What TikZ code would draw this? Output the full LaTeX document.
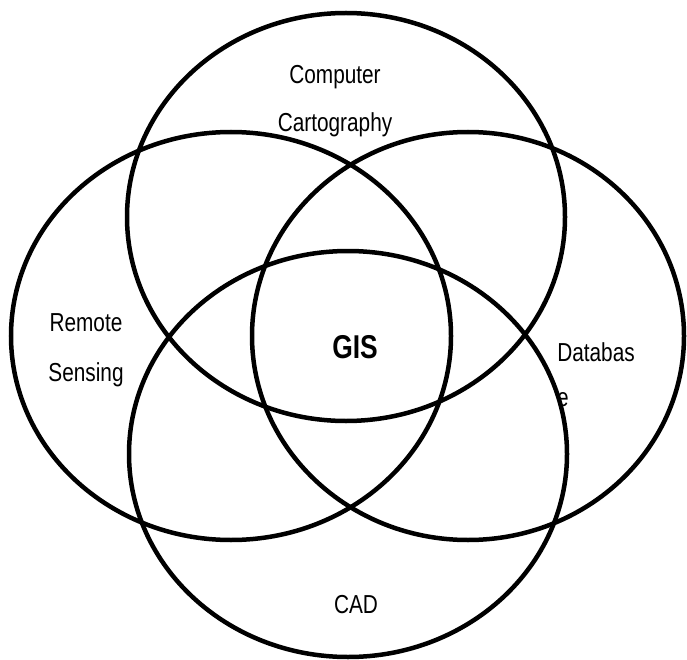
\documentclass[tikz,border=0pt]{standalone}
\usepackage{fontspec}
\setmainfont{Liberation Sans}[FakeStretch=0.8]
\usetikzlibrary{shapes.geometric,positioning}
\tikzstyle{ring} = [draw, ellipse, line width=4.5pt, inner sep=0pt, minimum width=438pt, minimum height=408pt]
\tikzstyle{field} = [font=\fontsize{26}{28}\selectfont, inner sep=0pt]
\tikzstyle{core} = [font=\bfseries\fontsize{33}{35}\selectfont, inner sep=0pt]

\begin{document}
\begin{tikzpicture}[x=1pt, y=-1pt, node distance=48pt]
		\useasboundingbox (0,0) rectangle (687,660);
		\node [ring] (carto) at (346,217) {};
		\node [ring, minimum width=440pt] (remote) at (231,336) {};
		\node [ring, minimum width=432pt] (data) at (468,336) {};
		\node [ring, minimum height=406pt] (cad) at (348,454) {};

		\node [field] (comp) at (335,77) {Computer};
		\node [field, below of=comp] (cartl) {Cartography};
		\node [field] (rem) at (86,323) {Remote};
		\node [field, below of=rem, node distance=52pt] (sens) {Sensing};
		\node [core] (gis) at (355,347) {GIS};
		\node [field] (datal) at (596,352) {Databas};
		\node [field] (datae) at (563,400) {e};
		\node [field] (cadl) at (356,605) {CAD};
	\end{tikzpicture}
\end{document}
